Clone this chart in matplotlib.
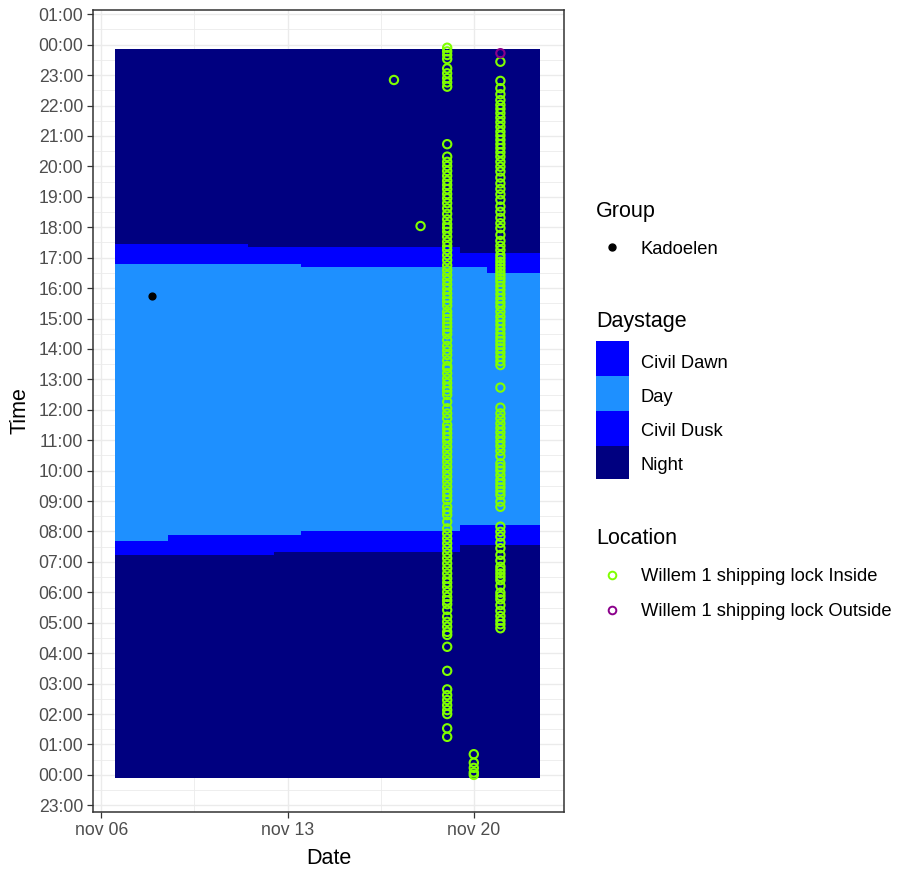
import matplotlib
matplotlib.use("Agg")
import matplotlib.pyplot as plt
import matplotlib.dates as mdates
from matplotlib.patches import Rectangle
from matplotlib.lines import Line2D
import datetime as dt

plt.rcParams['font.family'] = ['Liberation Sans', 'DejaVu Sans']

# daystage tiles, one per day in november (hours of day)
tile_days = [7, 8, 9, 10, 11, 12, 13, 14, 15, 16, 17, 18, 19, 20, 21, 22]
dawn_start = [7.22, 7.22, 7.22, 7.22, 7.22, 7.22, 7.33, 7.33, 7.33, 7.33, 7.33, 7.33, 7.33, 7.54, 7.54, 7.54]
sunrise = [7.68, 7.68, 7.87, 7.87, 7.87, 7.87, 7.87, 8.00, 8.00, 8.00, 8.00, 8.00, 8.00, 8.20, 8.20, 8.20]
sunset = [16.80, 16.80, 16.80, 16.80, 16.80, 16.80, 16.80, 16.68, 16.68, 16.68, 16.68, 16.68, 16.68, 16.68, 16.49, 16.49]
dusk_end = [17.46, 17.46, 17.46, 17.46, 17.46, 17.34, 17.34, 17.34, 17.34, 17.34, 17.34, 17.34, 17.34, 17.15, 17.15, 17.15]
day_start = -0.1
day_end = 23.85

stage_names = ["Civil Dawn", "Day", "Civil Dusk", "Night"]
stage_colors = ["#0000FF", "#1E90FF", "#0000FF", "#000080"]

# detections (time of day in hours)
kadoelen_day = 7.9
kadoelen_time = [15.75]

inside_17 = [22.84]
inside_18 = [18.04]
inside_19 = [23.90, 23.78, 23.66, 23.53, 23.22, 23.06, 22.90, 22.76, 22.62,
             20.73,
             20.32, 20.15, 20.01, 19.85, 19.69, 19.53, 19.39, 19.25, 19.09, 18.95,
             18.79, 18.62, 18.44, 18.26, 18.10, 17.98, 17.85, 17.69, 17.52, 17.38,
             17.25, 17.08, 16.92, 16.75, 16.59, 16.43, 16.27, 16.12, 15.97, 15.82,
             15.68, 15.55, 15.42, 15.22, 15.10, 14.98, 14.85, 14.73, 14.60, 14.48,
             14.29, 14.10, 13.95, 13.80, 13.62, 13.44, 13.36, 13.20, 13.03, 12.88,
             12.73, 12.61, 12.49, 12.26, 12.05, 11.88, 11.72, 11.50, 11.37, 11.23,
             11.09, 10.95, 10.78, 10.62, 10.45, 10.29, 10.12, 9.96, 9.80, 9.64,
             9.47, 9.31, 9.17, 9.03, 8.81, 8.67, 8.54, 8.32, 8.10, 7.93,
             7.77, 7.61, 7.45, 7.28, 7.12, 6.95, 6.79, 6.62, 6.46, 6.32,
             6.18, 6.01, 5.85, 5.73, 5.61, 5.42, 5.20, 5.03, 4.87, 4.70, 4.60,
             4.21, 3.42,
             2.81, 2.62, 2.46, 2.29, 2.13, 2.00,
             1.53, 1.25]
inside_20 = [0.68, 0.40, 0.23, 0.08, 0.0]
inside_21 = [23.44, 22.81,
             22.57, 22.37, 22.18, 22.02, 21.89, 21.75, 21.60, 21.45, 21.30, 21.14,
             21.01, 20.87, 20.73, 20.60, 20.46, 20.32, 20.15, 19.99, 19.83, 19.63,
             19.44, 19.26, 19.08, 18.90, 18.68, 18.51, 18.31, 18.13, 17.97, 17.75,
             17.55, 17.39, 17.25, 17.09, 16.98, 16.87, 16.76, 16.65, 16.54, 16.43,
             16.32, 16.21, 16.07, 15.94, 15.80, 15.66, 15.52, 15.39, 15.22, 15.06,
             14.92, 14.79, 14.65, 14.51, 14.38, 14.26, 14.14, 14.02, 13.88, 13.74,
             13.60, 13.47,
             12.73,
             12.07, 11.88, 11.72, 11.55, 11.40, 11.25, 11.10, 10.95, 10.81, 10.65,
             10.48, 10.24, 10.12, 10.00, 9.85, 9.69, 9.57, 9.45, 9.32, 9.20,
             8.98, 8.81,
             8.16, 7.99, 7.83, 7.63, 7.45, 7.23, 7.04, 6.84, 6.73, 6.62,
             6.51, 6.40, 6.21, 5.99, 5.88, 5.77, 5.58, 5.39, 5.22, 5.07, 4.95, 4.82]
outside_21 = [23.72]

tick_days = [6, 13, 20]
tick_labels = ["nov 06", "nov 13", "nov 20"]


def nov(d):
    return mdates.date2num(dt.datetime(2023, 11, 1)) + d - 1


fig = plt.figure(figsize=(9.01, 8.72), dpi=100)
W, H = 901, 872


def fx(px):
    return px / W


def fy(py):
    return 1 - py / H


ax = fig.add_axes([fx(93), fy(812), (564 - 93) / W, (812 - 10) / H])

# daystage tiles
xs = [nov(d) for d in tile_days]
bottoms = [day_start] * len(xs)
for lo, hi, col in [(bottoms, dawn_start, stage_colors[3]),
                    (dawn_start, sunrise, stage_colors[0]),
                    (sunrise, sunset, stage_colors[1]),
                    (sunset, dusk_end, stage_colors[2]),
                    (dusk_end, [day_end] * len(xs), stage_colors[3])]:
    ax.bar(xs, [h - l for l, h in zip(lo, hi)], bottom=lo, width=1.0,
           color=col, linewidth=0, zorder=2)

# points
green = "#7FFF00"
purple = "#8B008B"
ms = 36
lw = 1.5
for d, times in [(17, inside_17), (18, inside_18), (19, inside_19),
                 (20, inside_20), (21, inside_21)]:
    ax.scatter([nov(d)] * len(times), times, s=ms, facecolors="none",
               edgecolors=green, linewidths=lw, zorder=3)
ax.scatter([nov(21)] * len(outside_21), outside_21, s=ms, facecolors="none",
           edgecolors=purple, linewidths=lw, zorder=3)
ax.scatter([nov(kadoelen_day)], kadoelen_time, s=24, color="black", zorder=4)

# axes
ax.set_xlim(nov(5.69), nov(23.39))
ax.set_ylim(-1.22, 25.14)
ax.set_xticks([nov(d) for d in tick_days])
ax.set_xticklabels(tick_labels)
ax.set_xticks([nov(9.5), nov(16.5)], minor=True)
hours = list(range(-1, 26))
ax.set_yticks(hours)
ax.set_yticklabels([f"{h % 24:02d}:00" for h in hours])
ax.set_yticks([h + 0.5 for h in hours[:-1]], minor=True)

ax.grid(which="major", color="#EBEBEB", linewidth=1.0, zorder=0)
ax.grid(which="minor", color="#EBEBEB", linewidth=0.6, zorder=0)
ax.set_axisbelow(True)
ax.tick_params(which="major", length=4, width=0.9, color="#333333",
               labelsize=12.7, labelcolor="#4D4D4D", pad=3.1)
ax.tick_params(which="minor", length=0)
for s in ax.spines.values():
    s.set_color("#333333")
    s.set_linewidth(1.1)

ax.set_xlabel("Date", fontsize=15.5)
ax.set_ylabel("Time", fontsize=15.5)
ax.xaxis.label.set_va("center")
ax.yaxis.label.set_va("center")
ax.xaxis.set_label_coords(0.5, (812 - 858) / 802)
ax.yaxis.set_label_coords((20 - 93.3) / 471, 0.5)

# legends
tfs = 15.5
lfs = 13.2
fig.text(fx(596), fy(212), "Group", fontsize=tfs, va="center")
fig.add_artist(Line2D([fx(611.5)], [fy(247.5)], marker="o", markersize=5,
                      color="black", linestyle="none", transform=fig.transFigure))
fig.text(fx(641), fy(250), "Kadoelen", fontsize=lfs, va="center")

fig.text(fx(596), fy(322), "Daystage", fontsize=tfs, va="center")
box_top = [341.5, 375.7, 411, 445.7]
box_bot = [375.7, 411, 445.7, 479.3]
label_y = [363, 397, 431, 465]
for name, col, t, b, ly in zip(stage_names, stage_colors, box_top, box_bot, label_y):
    fig.add_artist(Rectangle((fx(596), fy(b)), fx(629) - fx(596), (b - t) / H,
                             color=col, linewidth=0, transform=fig.transFigure))
    fig.text(fx(641), fy(ly), name, fontsize=lfs, va="center")

fig.text(fx(596), fy(538), "Location", fontsize=tfs, va="center")
for py, col, name in [(575, green, "Willem 1 shipping lock Inside"),
                      (610, purple, "Willem 1 shipping lock Outside")]:
    fig.add_artist(Line2D([fx(612.3)], [fy(py)], marker="o", markersize=5.5,
                          markerfacecolor="none", markeredgecolor=col,
                          markeredgewidth=1.4, linestyle="none",
                          transform=fig.transFigure))
    fig.text(fx(641), fy(py + 1.5), name, fontsize=lfs, va="center")

fig.savefig("out.png", dpi=100)
